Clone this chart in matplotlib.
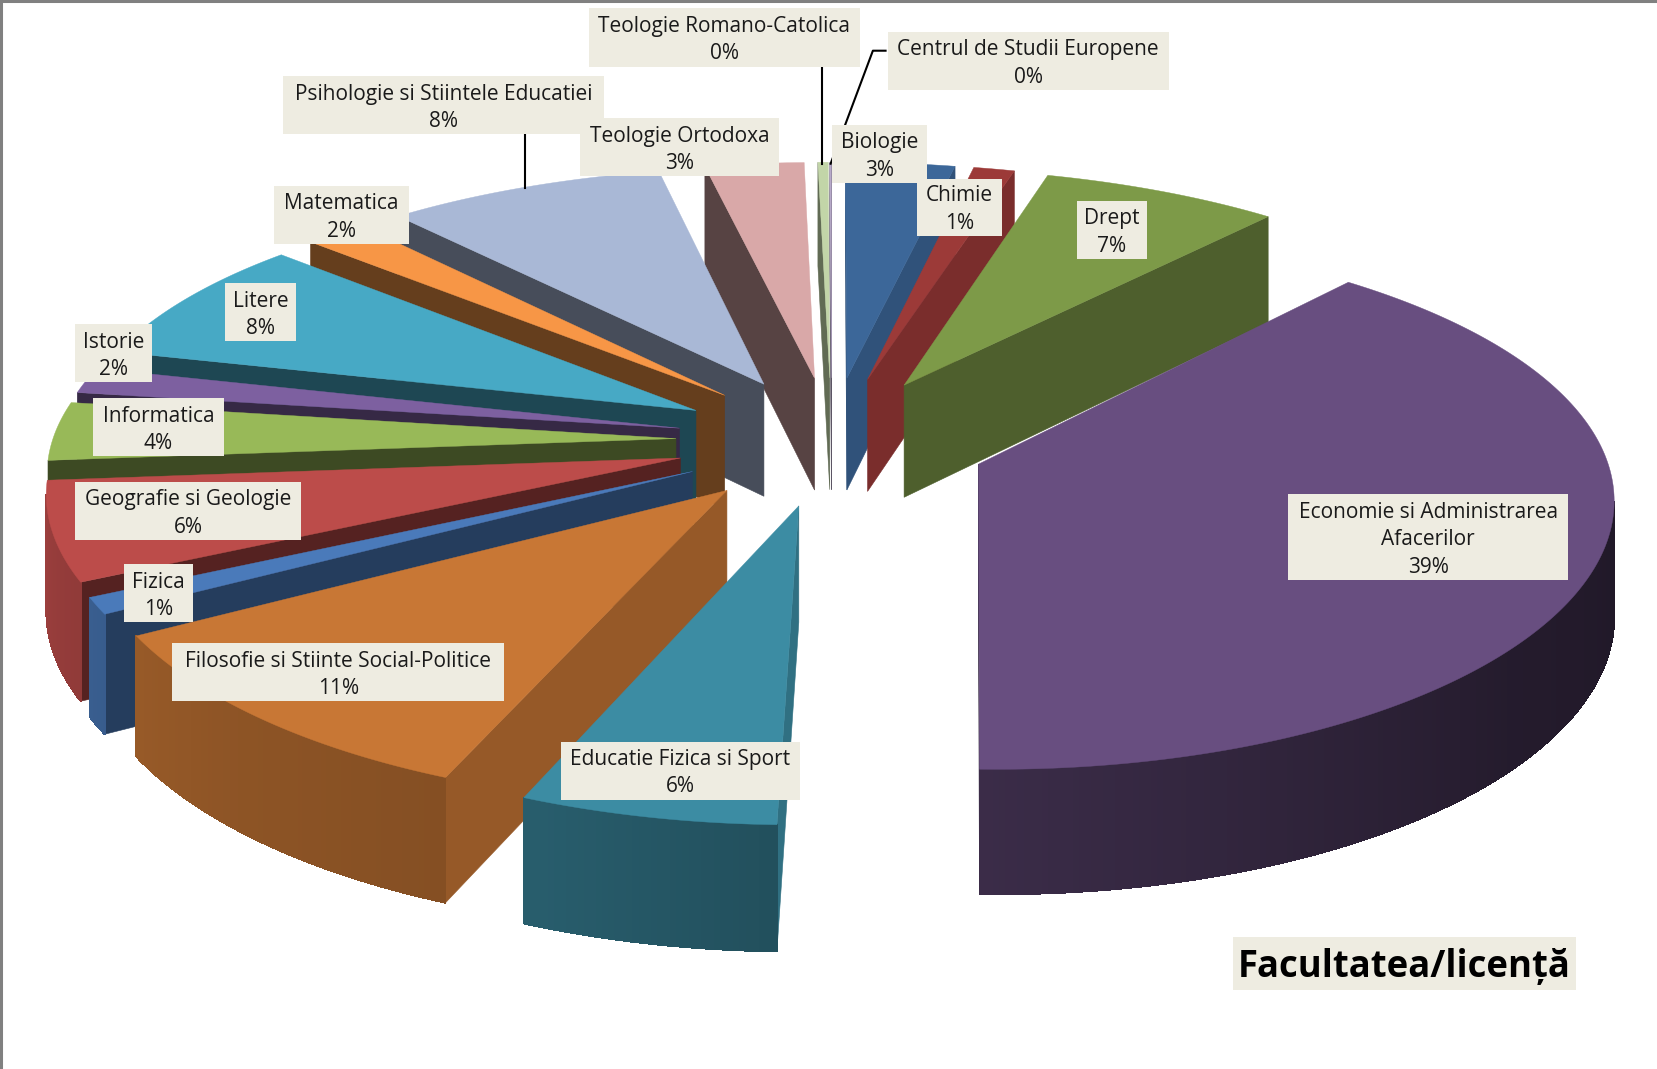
import numpy as np
import matplotlib
matplotlib.use('Agg')
import matplotlib.pyplot as plt
from matplotlib.patches import Polygon, Rectangle

names = ['Biologie', 'Chimie', 'Drept', 'Economie si Administrarea\nAfacerilor', 'Educatie Fizica si Sport',
         'Filosofie si Stiinte Social-Politice', 'Fizica', 'Geografie si Geologie', 'Informatica', 'Istorie',
         'Litere', 'Matematica', 'Psihologie si Stiintele Educatiei', 'Teologie Ortodoxa',
         'Teologie Romano-Catolica', 'Centrul de Studii Europene']
values = [3.2, 1.2, 7.0, 39.03, 5.8, 10.5, 1.0, 6.0, 3.6, 1.6, 7.9, 1.8, 8.2, 2.9, 0.3, 0.05]
percent = [3, 1, 7, 39, 6, 11, 1, 6, 4, 2, 8, 2, 8, 3, 0, 0]
colors = ['#3C6799', '#9C3A38', '#7D9A48', '#684E80', '#3C8CA3', '#C87735', '#4A7ABA', '#BC4C4A',
          '#98B958', '#7D60A0', '#47A9C5', '#F79646', '#A9B8D6', '#D9A8A8', '#C2D5A8', '#B7A9C9']
wall_shade = [.8, .78, .62, .5, .8, .75, .5, .45, .4, .43, .42, .41, .42, .4, .5, .5]

# label boxes x0, x1, y0, y1 in the 1568 wide view
boxes = [(787, 877, 118, 173), (868, 948, 169, 223), (1019, 1085, 190, 245), (1219, 1484, 468, 549),
         (531, 757, 702, 757), (163, 477, 609, 664), (117, 183, 534, 589), (71, 285, 456, 511),
         (88, 212, 377, 432), (71, 144, 307, 362), (213, 280, 268, 323), (259, 387, 176, 231),
         (268, 572, 72, 127), (549, 737, 112, 167), (557, 814, 8, 63), (840, 1106, 30, 85)]

# view settings
cx, cy = 787, 417
A, B = 590, 245
b, bx = 0.13, 0.11
H, hb = 108, 0.08
e = 0.25

def project(X, Y, z=0):
    sx = cx + A * X / (1 + bx * Y)
    sy = cy - B * Y / (1 + b * Y) + z * H / (1 + hb * Y)
    return np.column_stack([sx, sy])

def rim_shade(th):
    return np.interp(th, [90, 130, 180, 200, 225, 270, 360], [.3, .35, .56, .66, .71, .85, .85])

def shade(c, f):
    return np.clip(np.array(matplotlib.colors.to_rgb(c)) * f, 0, 1)

def area(p):
    x, y = p[:, 0], p[:, 1]
    return 0.5 * np.sum(x * np.roll(y, -1) - np.roll(x, -1) * y)

fig = plt.figure(figsize=(16.57, 10.69), dpi=100)
ax = fig.add_axes([0, 0, 1, 1])
ax.set_xlim(0, 1568)
ax.set_ylim(1012, 0)
ax.axis('off')

# border of the screenshot
ax.plot([1, 1], [1012, 1], color='#808080', lw=2.2, zorder=1)
ax.plot([0, 1568], [1, 1], color='#808080', lw=2.2, zorder=1)

fracs = np.array(values) / np.sum(values) * 360
edges = np.concatenate([[0], np.cumsum(fracs)])

slices = []
for i in range(len(values)):
    mid = np.radians((edges[i] + edges[i + 1]) / 2)
    slices.append((np.cos(mid), i))

z = 2
for _, i in sorted(slices, reverse=True):
    a0, a1 = edges[i], edges[i + 1]
    mid = np.radians((a0 + a1) / 2)
    X0, Y0 = e * np.sin(mid), e * np.cos(mid)
    th = np.linspace(a0, a1, max(3, int(a1 - a0) * 2 + 2))
    X = X0 + np.sin(np.radians(th))
    Y = Y0 + np.cos(np.radians(th))
    tip = project(np.array([X0]), np.array([Y0]))
    tip_low = project(np.array([X0]), np.array([Y0]), 1)
    top = project(X, Y)
    low = project(X, Y, 1)

    # side walls
    for k, sign in ((0, -1), (-1, 1)):
        quad = np.vstack([tip, top[k], low[k], tip_low])
        if area(quad) * sign > 0:
            c = shade(colors[i], wall_shade[i])
            ax.add_patch(Polygon(quad, fc=c, ec=c, lw=0.4, zorder=z))
    z += 1
    # outer rim, base shape first so the aliased strips keep a smooth edge
    vis = [k for k in range(len(th) - 1)
           if area(np.vstack([top[k], top[k + 1], low[k + 1], low[k]])) < 0]
    if vis:
        idx = np.arange(vis[0], vis[-1] + 2)
        base = shade(colors[i], rim_shade(th[idx].mean()))
        ax.add_patch(Polygon(np.vstack([top[idx], low[idx][::-1]]), fc=base, ec='none', zorder=z))
        z += 1
    for k in vis:
        quad = np.vstack([top[k], top[k + 1], low[k + 1], low[k]])
        c = shade(colors[i], rim_shade((th[k] + th[k + 1]) / 2))
        ax.add_patch(Polygon(quad, fc=c, ec=c, lw=0.6, antialiased=False, zorder=z))
    z += 1
    ax.add_patch(Polygon(np.vstack([tip, top]), fc=colors[i], ec=colors[i], lw=0.3, zorder=z))
    z += 1

# leader lines
ax.plot([778, 778], [63, 155], color='black', lw=1.5, zorder=z)
ax.plot([838, 826, 786], [48, 48, 155], color='black', lw=1.5, zorder=z)
ax.plot([497, 497], [127, 178], color='black', lw=1.5, zorder=z)
z += 1

for i, (x0, x1, y0, y1) in enumerate(boxes):
    ax.add_patch(Rectangle((x0, y0), x1 - x0, y1 - y0, fc='#EEECE1', ec='none', zorder=z))
    ax.text((x0 + x1) / 2, (y0 + y1) / 2 + 2.5, f'{names[i]}\n{percent[i]}%', ha='center', va='center',
            family='Open Sans', fontsize=15, color='#1A1A1A', linespacing=1.4, zorder=z + 1)

ax.add_patch(Rectangle((1167, 887), 324, 50, fc='#EEECE1', ec='none', zorder=z))
ax.text(1329, 915, 'Facultatea/licență', ha='center', va='center', family='Open Sans',
        fontweight='bold', fontsize=26.3, color='black', zorder=z + 1)

fig.savefig('out.png', dpi=100)
